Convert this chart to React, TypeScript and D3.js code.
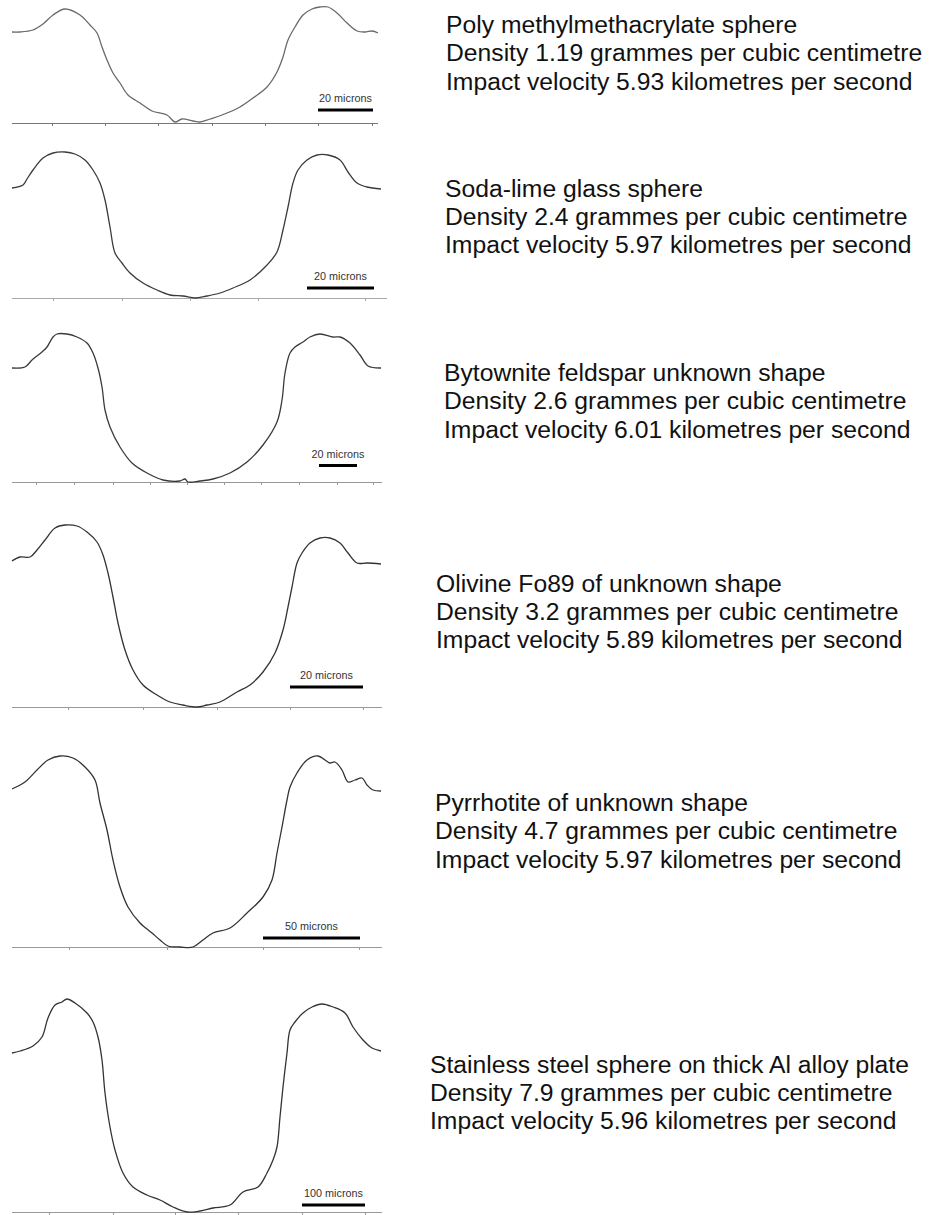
import React from "react";
import * as d3 from "d3";

// ---------- DATA ----------
const materials = [
  "Poly methylmethacrylate sphere",
  "Soda-lime glass sphere",
  "Bytownite feldspar unknown shape",
  "Olivine Fo89 of unknown shape",
  "Pyrrhotite of unknown shape",
  "Stainless steel sphere on thick Al alloy plate",
];
const densities = ["1.19", "2.4", "2.6", "3.2", "4.7", "7.9"];
const velocities = ["5.93", "5.97", "6.01", "5.89", "5.97", "5.96"];
const scaleLabels = ["20 microns", "20 microns", "20 microns", "20 microns", "50 microns", "100 microns"];
const scaleBarSpans = [
  [306, 361],
  [295, 362],
  [307, 345],
  [278, 351],
  [251, 348],
  [290, 353],
];
const tickPositions = [
  [40, 93, 146, 200, 253, 306, 360],
  [41, 110, 178, 246, 353],
  [24, 62, 101, 138, 175, 212, 249, 287, 325, 361],
  [56, 131, 205, 278, 351],
  [57, 155, 251, 347],
  [37, 101, 163, 226, 290, 353],
];

// profile 1: PMMA
const p1X = [0, 8, 21, 31, 41, 53, 68, 78, 85, 90, 95, 101, 108, 116, 128, 140, 155, 163, 170, 181, 188, 198, 210, 228, 241, 255, 265, 271, 276, 283, 291, 300, 308, 316, 325, 335, 345, 353, 360, 366];
const p1H = [91, 91, 93, 99, 108, 114, 108, 98, 90, 76, 63, 50, 40, 28, 20, 12, 8, 1, 4, 2, 1, 4, 8, 16, 25, 36, 51, 66, 83, 96, 108, 114, 116, 116, 110, 100, 92, 91, 92, 90];
// profile 2: soda-lime glass
const p2X = [0, 11, 15, 21, 31, 41, 53, 63, 73, 81, 88, 93, 98, 103, 110, 118, 131, 145, 158, 171, 183, 195, 208, 221, 238, 255, 265, 271, 276, 281, 286, 295, 305, 316, 328, 336, 345, 355, 369];
const p2H = [110, 113, 119, 128, 140, 145, 146, 144, 138, 128, 115, 98, 71, 45, 35, 25, 15, 8, 3, 2, 0, 2, 5, 10, 18, 33, 46, 68, 91, 115, 128, 138, 143, 143, 138, 126, 115, 111, 109];
// profile 3: bytownite
const p3X = [0, 13, 20, 30, 35, 41, 45, 55, 65, 75, 81, 86, 90, 93, 98, 108, 120, 135, 151, 168, 173, 176, 188, 201, 218, 235, 251, 265, 270, 273, 278, 283, 291, 298, 308, 321, 328, 338, 348, 356, 369];
const p3H = [114, 115, 122, 130, 135, 145, 148, 148, 145, 139, 129, 114, 95, 72, 55, 35, 19, 9, 2, 1, 3, 0, 1, 3, 9, 20, 37, 60, 82, 109, 129, 135, 140, 145, 148, 145, 145, 139, 127, 116, 114];
// profile 4: olivine
const p4X = [0, 8, 18, 25, 33, 43, 53, 65, 75, 85, 91, 96, 101, 106, 113, 121, 131, 145, 158, 171, 185, 195, 208, 225, 238, 251, 263, 271, 276, 280, 285, 290, 298, 308, 318, 328, 336, 345, 355, 369];
const p4H = [146, 150, 150, 157, 167, 179, 182, 181, 175, 165, 152, 134, 110, 84, 57, 37, 22, 12, 5, 2, 0, 2, 5, 15, 22, 35, 54, 77, 100, 120, 144, 154, 164, 169, 169, 164, 154, 144, 144, 143];
// profile 5: pyrrhotite
const p5X = [0, 13, 25, 36, 48, 61, 73, 83, 88, 95, 101, 108, 116, 128, 140, 148, 156, 168, 181, 191, 201, 218, 235, 251, 260, 265, 270, 275, 278, 285, 295, 306, 313, 318, 323, 330, 336, 343, 350, 355, 361, 369];
const p5H = [158, 165, 177, 187, 191, 189, 180, 167, 144, 117, 87, 60, 40, 24, 14, 7, 1, 0, 0, 7, 14, 19, 34, 50, 67, 94, 120, 147, 160, 174, 187, 191, 187, 184, 185, 177, 165, 167, 169, 162, 157, 156];
// profile 6: stainless steel
const p6X = [0, 8, 21, 30, 36, 43, 50, 55, 63, 75, 81, 86, 90, 93, 98, 103, 111, 121, 135, 148, 161, 175, 188, 201, 218, 231, 246, 255, 261, 265, 268, 271, 275, 278, 283, 291, 300, 310, 321, 333, 341, 351, 360, 369];
const p6H = [159, 161, 166, 175, 194, 207, 210, 213, 209, 199, 190, 175, 152, 119, 85, 62, 39, 25, 17, 12, 5, 0, 1, 4, 7, 20, 25, 39, 52, 65, 95, 125, 159, 182, 190, 199, 205, 208, 205, 199, 185, 172, 164, 161];

const profileX = [p1X, p2X, p3X, p4X, p5X, p6X];
const profileH = [p1H, p2H, p3H, p4H, p5H, p6H];

// ---------- LAYOUT ----------
const layout = [
  { base: 123, axisEnd: 366, barDy: 13, textX: 446, textY: 33, stroke: "#6a6a6a", axis: "#777" },
  { base: 298, axisEnd: 375, barDy: 10, textX: 445, textY: 196.5, stroke: "#3a3a3a", axis: "#aaa" },
  { base: 482, axisEnd: 370, barDy: 16.5, textX: 444, textY: 381, stroke: "#3a3a3a", axis: "#999" },
  { base: 707, axisEnd: 370, barDy: 20, textX: 436, textY: 591.5, stroke: "#333", axis: "#999" },
  { base: 947, axisEnd: 370, barDy: 9, textX: 435, textY: 811, stroke: "#333", axis: "#999" },
  { base: 1212, axisEnd: 370, barDy: 7, textX: 430, textY: 1072.5, stroke: "#333", axis: "#999" },
];
const X0 = 12;
const LINE_GAP = 28.4;
const FONT = "'Liberation Sans', Arial, sans-serif";

function Panel({ i }: { i: number }) {
  const L = layout[i];
  const x = d3.scaleLinear().domain([0, 370]).range([X0, X0 + 370]);
  const y = d3.scaleLinear().domain([0, 200]).range([L.base, L.base - 200]);
  const pts: [number, number][] = profileX[i].map((v, k) => [v, profileH[i][k]]);
  const line = d3
    .line<[number, number]>()
    .x((d) => x(d[0]))
    .y((d) => y(d[1]))
    .curve(d3.curveCatmullRom.alpha(0.5));
  const [b0, b1] = scaleBarSpans[i];
  const barY = L.base - L.barDy;
  return (
    <g>
      <line x1={x(0)} x2={x(L.axisEnd)} y1={y(0) + 0.5} y2={y(0) + 0.5} stroke={L.axis} strokeWidth={1} />
      {tickPositions[i].map((t, k) => (
        <line key={k} x1={x(t) + 0.5} x2={x(t) + 0.5} y1={y(0)} y2={y(0) + 3} stroke={L.axis} strokeWidth={1} />
      ))}
      <path d={line(pts) || ""} fill="none" stroke={L.stroke} strokeWidth={1.3} strokeLinejoin="round" />
      <line x1={x(b0)} x2={x(b1)} y1={barY} y2={barY} stroke="#000" strokeWidth={3} />
      <text
        x={(x(b0) + x(b1)) / 2}
        y={barY - 8}
        textAnchor="middle"
        fontFamily={FONT}
        fontSize={10.8}
        fill="#333"
      >
        {scaleLabels[i]}
      </text>
      <g fontFamily={FONT} fontSize={24.7} fill="#111">
        <text x={L.textX} y={L.textY}>{materials[i]}</text>
        <text x={L.textX} y={L.textY + LINE_GAP}>{`Density ${densities[i]} grammes per cubic centimetre`}</text>
        <text x={L.textX} y={L.textY + 2 * LINE_GAP}>{`Impact velocity ${velocities[i]} kilometres per second`}</text>
      </g>
    </g>
  );
}

export default function App() {
  return (
    <svg
      width={941}
      height={1215}
      viewBox="0 0 941 1215"
      style={{ position: "absolute", left: 0, top: 0, display: "block", background: "#fff" }}
    >
      <rect width={941} height={1215} fill="#fff" />
      {layout.map((_, i) => (
        <Panel key={i} i={i} />
      ))}
    </svg>
  );
}
